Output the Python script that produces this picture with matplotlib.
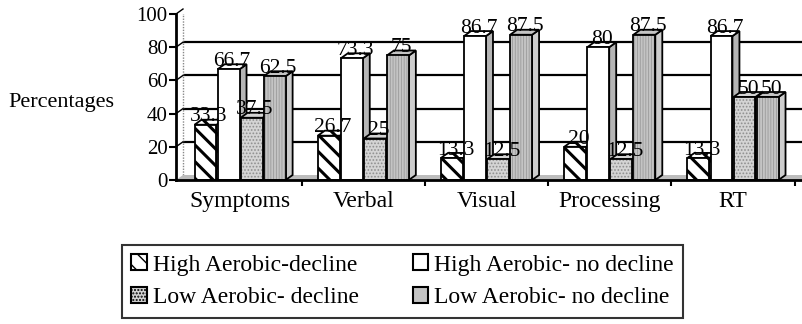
import matplotlib
matplotlib.use("Agg")
import matplotlib.pyplot as plt
from matplotlib.patches import Polygon, Patch
import matplotlib.transforms as mtransforms
import numpy as np

plt.rcParams['font.family'] = ['Liberation Serif', 'DejaVu Serif']

categories = ['Symptoms', 'Verbal', 'Visual', 'Processing', 'RT']
series = ['High Aerobic-decline', 'High Aerobic- no decline',
          'Low Aerobic- decline', 'Low Aerobic- no decline']
high_decline = [33.3, 26.7, 13.3, 20, 13.3]
high_no_decline = [66.7, 73.3, 86.7, 80, 86.7]
low_decline = [37.5, 25, 12.5, 12.5, 50]
low_no_decline = [62.5, 75, 87.5, 87.5, 50]
values = [high_decline, high_no_decline, low_decline, low_no_decline]

# fill, hatch, hatch colour, side colour, hatch width for each series
styles = [
    ('white', '\\\\', 'black', 'white', 2.2),
    ('white', None, None, '#b5b5b5', 1.0),
    ('#d4d4d4', '.....', '#8f8f8f', '#a9a9a9', 0.8),
    ('#c4c4c4', '||||||', '#9a9a9a', '#cdcdcd', 0.6),
]

W, H = 802, 324
fig = plt.figure(figsize=(W / 100, H / 100), dpi=100)
ax = fig.add_axes([176 / W, 1 - 180 / H, (W - 176) / W, 166 / H])
ax.set_xlim(-0.52, 4.56)
ax.set_ylim(0, 100)
for s in ['top', 'right']:
    ax.spines[s].set_visible(False)
for s in ['left', 'bottom']:
    ax.spines[s].set_linewidth(2)
    ax.spines[s].set_zorder(50)

# depth of the 3d look, in pixels and in data units
dpx, dpy = 7, 5
ddx = dpx / 123.2
ddy = dpy / 1.66
back = mtransforms.offset_copy(ax.transData, fig=fig, x=dpx, y=dpy, units='dots')

# back wall, side wall and floor
ax.hlines([20, 40, 60, 80], -0.52, 4.56, transform=back, color='black', lw=1.6, zorder=1)
ax.hlines([100], -0.52, 4.56, transform=back, color='#888888', lw=1, ls=(0, (1, 1)), zorder=1)
ax.vlines([-0.52], 0, 100, transform=back, color='#888888', lw=1, ls=(0, (1, 1)), zorder=1)
floor = Polygon([(-0.52, 0), (-0.52 + ddx, ddy), (4.56, ddy), (4.56, 0)],
                closed=True, fc='#bdbdbd', ec='none', zorder=1)
ax.add_patch(floor)
for t in [20, 40, 60, 80, 100]:
    ax.plot([-0.52, -0.52 + ddx], [t, t + ddy], color='black', lw=1, zorder=1,
            clip_on=False)


def face(pts, fc, hatch, hc, hlw, z):
    p = Polygon(pts, closed=True, fc=fc, ec=hc if hatch else 'none', lw=0,
                hatch=hatch, zorder=z)
    if hatch:
        p.set_hatch_linewidth(hlw)
    ax.add_patch(p)
    ax.add_patch(Polygon(pts, closed=True, fill=False, ec='black', lw=1.3, zorder=z))


step = 0.187
width = 0.178
x = np.arange(len(categories))
z = 10
for ci in range(len(categories)):
    for si, vals in enumerate(values):
        fc, hatch, hc, side, hlw = styles[si]
        v = vals[ci]
        x0 = x[ci] + (si - 1.5) * step - width / 2
        x1 = x0 + width
        face([(x1, 0), (x1 + ddx, ddy), (x1 + ddx, v + ddy), (x1, v)], side,
             hatch if si == 0 else None, hc, hlw, z)
        face([(x0, v), (x0 + ddx, v + ddy), (x1 + ddx, v + ddy), (x1, v)], fc,
             hatch if si == 0 else None, hc, hlw, z)
        face([(x0, 0), (x0, v), (x1, v), (x1, 0)], fc, hatch, hc, hlw, z + 1)
        z += 2
for ci in range(len(categories)):
    for si, vals in enumerate(values):
        v = vals[ci]
        xc = x[ci] + (si - 1.5) * step + ddx / 2
        ax.annotate(f'{v:g}', (xc, v + ddy), xytext=(0, 2), textcoords='offset points',
                    ha='center', va='center', fontsize=15.5, zorder=200)

ax.set_yticks([0, 20, 40, 60, 80, 100])
ax.tick_params(axis='y', labelsize=15, length=5, width=1.5, pad=1)
ax.set_xticks(x, categories)
ax.set_xticks(np.arange(0.5, 5, 1), minor=True)
ax.tick_params(axis='x', which='major', length=0, labelsize=17, pad=8)
ax.tick_params(axis='x', which='minor', length=4, width=1.5, direction='out')

fig.text(8 / W, 1 - 102 / H, 'Percentages', fontsize=16, ha='left', va='center')

handles = [
    Patch(fc='white', ec='black', hatch='\\\\', lw=1.5),
    Patch(fc='white', ec='black', lw=1.5),
    Patch(fc=styles[2][0], ec='black', hatch='.....', lw=1.5),
    Patch(fc=styles[3][0], ec='black', lw=1.5),
]
# legend fills column by column, so put the two "decline" entries in the first column
order = [0, 2, 1, 3]
leg = fig.legend([handles[i] for i in order], [series[i] for i in order],
                 loc='upper left', bbox_to_anchor=(122 / W, 1 - 245 / H),
                 ncol=2, fontsize=17, frameon=True, fancybox=False, edgecolor='black',
                 borderpad=0.4, handlelength=0.65, handleheight=0.65, handletextpad=0.25,
                 columnspacing=2.3, labelspacing=0.48, borderaxespad=0)
leg.get_frame().set_linewidth(1.5)

fig.savefig('out.png', dpi=100)
